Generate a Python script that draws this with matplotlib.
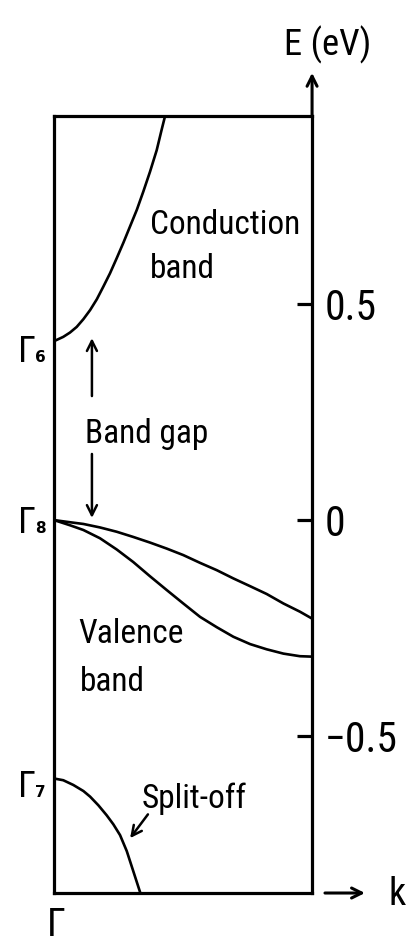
import os
import matplotlib
matplotlib.use("Agg")
import matplotlib.pyplot as plt
import matplotlib.transforms as mtransforms
from matplotlib import font_manager

# band energies (eV) against k (0 = Gamma, 1 = right edge of the frame)
cb_k = [0.0, 0.036, 0.062, 0.088, 0.114, 0.140, 0.166, 0.191, 0.217, 0.243,
        0.269, 0.295, 0.321, 0.346, 0.372, 0.398, 0.417, 0.430, 0.44]
cb_e = [0.414, 0.424, 0.434, 0.447, 0.465, 0.486, 0.511, 0.540, 0.571, 0.606,
        0.642, 0.680, 0.718, 0.760, 0.806, 0.856, 0.903, 0.934, 0.96]

vb_upper_k = [0.0, 0.062, 0.114, 0.178, 0.243, 0.307, 0.372, 0.437, 0.501,
              0.566, 0.631, 0.695, 0.760, 0.824, 0.889, 0.953, 1.0]
vb_upper_e = [0.0, -0.005, -0.009, -0.017, -0.027, -0.039, -0.052, -0.066, -0.081,
              -0.099, -0.116, -0.135, -0.153, -0.171, -0.193, -0.212, -0.228]

vb_lower_k = [0.0, 0.062, 0.114, 0.178, 0.243, 0.307, 0.372, 0.437, 0.501,
              0.566, 0.631, 0.695, 0.760, 0.824, 0.889, 0.953, 1.0]
vb_lower_e = [0.0, -0.012, -0.023, -0.042, -0.068, -0.097, -0.130, -0.162, -0.193,
              -0.224, -0.248, -0.270, -0.287, -0.299, -0.309, -0.315, -0.316]

so_k = [0.0, 0.036, 0.075, 0.114, 0.140, 0.172, 0.204, 0.230, 0.256, 0.282, 0.307, 0.333, 0.34]
so_e = [-0.598, -0.602, -0.613, -0.627, -0.640, -0.660, -0.683, -0.704, -0.729,
        -0.766, -0.812, -0.860, -0.875]

e_ticks = [0.5, 0.0, -0.5]
e_tick_labels = ['0.5', '0', '\u22120.5']

# (subscript, baseline energy of the label)
gamma_labels = [('6', 0.366), ('8', -0.030), ('7', -0.641)]


def narrow_font():
    prefs = ['Liberation Sans Narrow', 'Roboto Condensed', 'DejaVu Sans Condensed',
             'Noto Sans Condensed', 'Open Sans Condensed']
    found = {}
    for f in font_manager.fontManager.ttflist:
        base = os.path.basename(f.fname)
        if f.style != 'normal' or f.weight not in (400, 'normal', 'regular'):
            continue
        if 'Narrow' in f.name or 'Condensed' in f.name or 'Condensed' in base or 'Narrow' in base:
            if 'Semi' in base or 'Extra' in base or 'Bold' in base or 'Italic' in base:
                continue
            found.setdefault(f.name, f.fname)
            if 'Condensed' in base and f.name not in ('Roboto Condensed',):
                found.setdefault(f.name + ' Condensed', f.fname)
    for p in prefs:
        if p in found:
            return font_manager.FontProperties(fname=found[p])
    if found:
        return font_manager.FontProperties(fname=next(iter(found.values())))
    return font_manager.FontProperties(family=['Liberation Sans', 'DejaVu Sans'])


fp = narrow_font()

fig = plt.figure(figsize=(4.09, 9.48), dpi=100)
ax = fig.add_axes([0.132, 0.058, 0.631, 0.8196])

# pick a size so that "Conduction" is about 150 px wide, glyphs no taller than ~31 pt
renderer = fig.canvas.get_renderer()
probe = fig.text(0, 0, 'Conduction', fontproperties=fp, fontsize=10)
w = probe.get_window_extent(renderer).width
probe.remove()
fs = min(10 * 150.0 / w, 31)

lw = 1.9
for k, e in [(cb_k, cb_e), (vb_upper_k, vb_upper_e), (vb_lower_k, vb_lower_e), (so_k, so_e)]:
    ax.plot(k, e, color='black', lw=lw, solid_capstyle='round', solid_joinstyle='round')

ax.set_xlim(0, 1)
ax.set_ylim(-0.863, 0.935)
for s in ax.spines.values():
    s.set_linewidth(2.3)

ax.set_xticks([])
ax.yaxis.tick_right()
ax.set_yticks(e_ticks)
ax.set_yticklabels(e_tick_labels)
ax.tick_params(axis='y', direction='in', length=11, width=2.3, pad=9)
for lab in ax.get_yticklabels():
    lab.set_fontproperties(fp)
    lab.set_fontsize(fs * 1.25)

ax.text(0.372, 0.662, 'Conduction', fontproperties=fp, fontsize=fs, va='baseline')
ax.text(0.372, 0.560, 'band', fontproperties=fp, fontsize=fs, va='baseline')
ax.text(0.12, 0.178, 'Band gap', fontproperties=fp, fontsize=fs, va='baseline')
ax.text(0.093, -0.285, 'Valence', fontproperties=fp, fontsize=fs, va='baseline')
ax.text(0.10, -0.396, 'band', fontproperties=fp, fontsize=fs, va='baseline')
ax.text(0.341, -0.667, 'Split-off', fontproperties=fp, fontsize=fs, va='baseline')

arrow = dict(arrowstyle='->', lw=1.8, color='black', mutation_scale=18,
             shrinkA=0, shrinkB=0)
# band gap arrows
ax.annotate('', xy=(0.147, 0.421), xytext=(0.147, 0.287), arrowprops=arrow)
ax.annotate('', xy=(0.147, 0.005), xytext=(0.147, 0.153), arrowprops=arrow)
# split-off pointer
ax.annotate('', xy=(0.295, -0.736), xytext=(0.364, -0.681), arrowprops=arrow)

# axis arrows and labels
axis_arrow = dict(arrow, lw=2.2)
ax.annotate('', xy=(1.0, 1.035), xytext=(1.0, 0.935), arrowprops=axis_arrow,
            annotation_clip=False)
ax.annotate('', xy=(1.205, -0.863), xytext=(1.05, -0.863), arrowprops=axis_arrow,
            annotation_clip=False)
ax.text(1.062, 1.074, 'E (eV)', fontproperties=fp, fontsize=fs * 1.1,
        ha='center', va='baseline', clip_on=False)
ax.text(1.33, -0.867, 'k', fontproperties=fp, fontsize=fs * 1.15, ha='center',
        va='center', clip_on=False)

# Gamma point labels on the left
trans = mtransforms.blended_transform_factory(ax.transAxes, ax.transData)
for sub, base in gamma_labels:
    ax.text(-0.14, base, '\u0393', fontproperties=fp, fontsize=fs * 1.1,
            va='baseline', transform=trans, clip_on=False)
    ax.text(-0.072, base, sub, fontsize=11, fontweight='bold',
            va='baseline', transform=trans, clip_on=False)
ax.text(-0.027, -0.962, '\u0393', fontproperties=fp, fontsize=fs * 1.15,
        va='baseline', clip_on=False)

fig.savefig('out.png', dpi=100)
